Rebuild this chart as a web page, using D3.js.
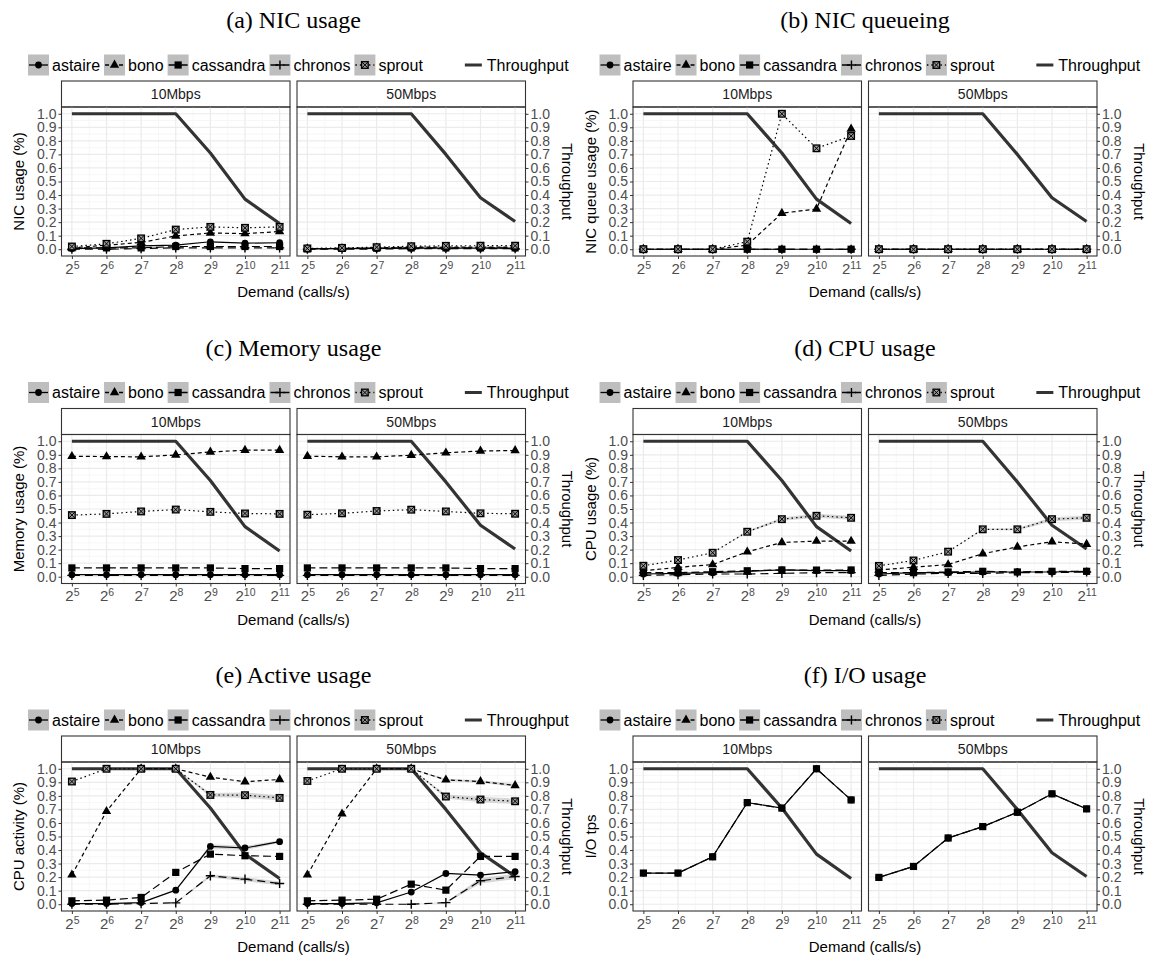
<!DOCTYPE html>
<html>
<head>
<meta charset="utf-8">
<script src="https://cdn.jsdelivr.net/npm/d3@7"></script>
<style>
  body { margin: 0; background: #fff; }
  text { font-family: "Liberation Sans", Arial, sans-serif; }
</style>
</head>
<body>
<svg id="fig" width="1153" height="956"></svg>
<script>
// x = log2(demand)
const exponents = [5, 6, 7, 8, 9, 10, 11];
const services = ["astaire", "bono", "cassandra", "chronos", "sprout"];
const facets = ["10Mbps", "50Mbps"];
const yTicks = [0, 0.1, 0.2, 0.3, 0.4, 0.5, 0.6, 0.7, 0.8, 0.9, 1.0];

const throughput10 = [1, 1, 1, 1, 0.71, 0.37, 0.19];
const throughput50 = [1, 1, 1, 1, 0.70, 0.38, 0.205];

// (a) NIC usage
const nic10 = {
  astaire:   [0.005, 0.01, 0.025, 0.03, 0.055, 0.045, 0.048],
  bono:      [0.01, 0.03, 0.05, 0.098, 0.12, 0.115, 0.13],
  cassandra: [0.01, 0.01, 0.01, 0.02, 0.02, 0.02, 0.02],
  chronos:   [0, 0, 0.005, 0.01, 0.01, 0.01, 0.01],
  sprout:    [0.02, 0.04, 0.08, 0.145, 0.165, 0.158, 0.165]
};
const nic50 = {
  astaire:   [0.002, 0.004, 0.006, 0.008, 0.008, 0.008, 0.008],
  bono:      [0.004, 0.006, 0.01, 0.015, 0.015, 0.016, 0.016],
  cassandra: [0.004, 0.006, 0.008, 0.01, 0.01, 0.01, 0.01],
  chronos:   [0, 0, 0.002, 0.004, 0.004, 0.004, 0.004],
  sprout:    [0.006, 0.01, 0.015, 0.022, 0.025, 0.026, 0.026]
};

// (b) NIC queueing
const queue10 = {
  astaire:   [0, 0, 0, 0, 0, 0, 0],
  bono:      [0, 0, 0, 0.03, 0.266, 0.297, 0.888],
  cassandra: [0, 0, 0, 0, 0, 0, 0],
  chronos:   [0, 0, 0, 0, 0, 0, 0],
  sprout:    [0, 0, 0, 0.056, 1.0, 0.745, 0.836]
};
const queue50 = {
  astaire:   [0, 0, 0, 0, 0, 0, 0],
  bono:      [0, 0, 0, 0, 0, 0, 0],
  cassandra: [0, 0, 0, 0, 0, 0, 0],
  chronos:   [0, 0, 0, 0, 0, 0, 0],
  sprout:    [0, 0, 0, 0, 0, 0, 0]
};

// (c) Memory usage
const mem10 = {
  astaire:   [0.015, 0.015, 0.015, 0.015, 0.015, 0.015, 0.015],
  bono:      [0.889, 0.887, 0.885, 0.899, 0.921, 0.934, 0.934],
  cassandra: [0.065, 0.065, 0.065, 0.065, 0.065, 0.06, 0.06],
  chronos:   [0.01, 0.01, 0.01, 0.01, 0.01, 0.01, 0.01],
  sprout:    [0.455, 0.464, 0.482, 0.496, 0.479, 0.467, 0.464]
};
const mem50 = {
  astaire:   [0.015, 0.015, 0.015, 0.015, 0.015, 0.015, 0.015],
  bono:      [0.89, 0.885, 0.885, 0.897, 0.915, 0.928, 0.932],
  cassandra: [0.065, 0.065, 0.065, 0.065, 0.065, 0.06, 0.06],
  chronos:   [0.01, 0.01, 0.01, 0.01, 0.01, 0.01, 0.01],
  sprout:    [0.458, 0.468, 0.485, 0.495, 0.482, 0.468, 0.465]
};

// (d) CPU usage
const cpu10 = {
  astaire:   [0.02, 0.025, 0.03, 0.04, 0.05, 0.045, 0.045],
  bono:      [0.044, 0.069, 0.09, 0.184, 0.253, 0.263, 0.263],
  cassandra: [0.03, 0.03, 0.037, 0.044, 0.05, 0.049, 0.05],
  chronos:   [0.01, 0.015, 0.02, 0.02, 0.025, 0.03, 0.03],
  sprout:    [0.081, 0.123, 0.177, 0.332, 0.425, 0.45, 0.435]
};
const cpu50 = {
  astaire:   [0.02, 0.03, 0.03, 0.035, 0.035, 0.035, 0.04],
  bono:      [0.05, 0.07, 0.09, 0.17, 0.22, 0.258, 0.24],
  cassandra: [0.03, 0.03, 0.035, 0.04, 0.035, 0.04, 0.04],
  chronos:   [0.01, 0.02, 0.025, 0.025, 0.03, 0.03, 0.035],
  sprout:    [0.08, 0.12, 0.185, 0.35, 0.35, 0.425, 0.435]
};

// (e) Active usage
const act10 = {
  astaire:   [0.005, 0.005, 0.012, 0.104, 0.427, 0.415, 0.462],
  bono:      [0.217, 0.686, 1.0, 1.0, 0.938, 0.904, 0.921],
  cassandra: [0.025, 0.03, 0.05, 0.235, 0.37, 0.358, 0.353],
  chronos:   [0, 0, 0.005, 0.01, 0.21, 0.185, 0.153],
  sprout:    [0.906, 1.0, 1.0, 1.0, 0.807, 0.805, 0.785]
};
const act50 = {
  astaire:   [0.005, 0.005, 0.01, 0.09, 0.227, 0.215, 0.24],
  bono:      [0.217, 0.667, 1.0, 1.0, 0.918, 0.906, 0.877],
  cassandra: [0.025, 0.03, 0.037, 0.148, 0.104, 0.353, 0.353],
  chronos:   [0, 0, 0, 0, 0.012, 0.173, 0.205],
  sprout:    [0.91, 1.0, 1.0, 1.0, 0.795, 0.773, 0.76]
};

// (f) I/O usage
const io10 = {
  astaire:   [0.23, 0.23, 0.35, 0.75, 0.71, 1.0, 0.77],
  cassandra: [0.23, 0.23, 0.35, 0.75, 0.71, 1.0, 0.77]
};
const io50 = {
  astaire:   [0.198, 0.279, 0.489, 0.573, 0.679, 0.815, 0.704],
  cassandra: [0.198, 0.279, 0.489, 0.573, 0.679, 0.815, 0.704]
};

// half widths of the grey smoothing bands
const cpuBand10 = { sprout: [0, 0, 0, 0.005, 0.012, 0.015, 0.015] };
const cpuBand50 = { sprout: [0, 0, 0, 0.005, 0.008, 0.015, 0.015] };
const actBand10 = { sprout: [0, 0, 0, 0, 0.015, 0.02, 0.02], astaire: [0, 0, 0, 0, 0.015, 0.015, 0.01], chronos: [0, 0, 0, 0, 0.012, 0.015, 0.015] };
const actBand50 = { sprout: [0, 0, 0, 0, 0.015, 0.02, 0.02], bono: [0, 0, 0, 0, 0.008, 0.01, 0.01], chronos: [0, 0, 0, 0, 0.005, 0.02, 0.02] };

const figures = [
  { title: "(a) NIC usage", ylab: "NIC usage (%)", data: [nic10, nic50], bands: [{}, {}] },
  { title: "(b) NIC queueing", ylab: "NIC queue usage (%)", data: [queue10, queue50], bands: [{}, {}] },
  { title: "(c) Memory usage", ylab: "Memory usage (%)", data: [mem10, mem50], bands: [{}, {}] },
  { title: "(d) CPU usage", ylab: "CPU usage (%)", data: [cpu10, cpu50], bands: [cpuBand10, cpuBand50] },
  { title: "(e) Active usage", ylab: "CPU activity (%)", data: [act10, act50], bands: [actBand10, actBand50] },
  { title: "(f) I/O usage", ylab: "I/O tps", data: [io10, io50], bands: [{}, {}] }
];
const throughputs = [throughput10, throughput50];

const dash = { astaire: null, bono: "4,3", cassandra: "8,4", chronos: "8,5", sprout: "1.5,3" };

const svg = d3.select("#fig");
const colX = [0, 571.5], rowY = [0, 327.5, 655];
const panelX = [[61.5, 290], [297, 525.5]];
const plotTop = 107, plotBottom = 256;

const x = d3.scaleLinear().domain([4.7, 11.3]);
const y = d3.scaleLinear().domain([-0.05, 1.05]).range([plotBottom, plotTop]);

function marker(sel, s, cx, cy) {
  if (s == "astaire") {
    sel.append("circle").attr("cx", cx).attr("cy", cy).attr("r", 3.4).attr("fill", "#000");
  } else if (s == "bono") {
    sel.append("path").attr("d", d3.symbol(d3.symbolTriangle, 38)())
      .attr("transform", `translate(${cx},${cy})`).attr("fill", "#000");
  } else if (s == "cassandra") {
    sel.append("rect").attr("x", cx - 3.6).attr("y", cy - 3.6).attr("width", 7.2).attr("height", 7.2).attr("fill", "#000");
  } else if (s == "chronos") {
    sel.append("path").attr("d", `M${cx-4.6},${cy}H${cx+4.6}M${cx},${cy-4.6}V${cy+4.6}`)
      .attr("stroke", "#000").attr("stroke-width", 1.4);
  } else {
    sel.append("rect").attr("x", cx - 3.3).attr("y", cy - 3.3).attr("width", 6.6).attr("height", 6.6)
      .attr("fill", "#999").attr("stroke", "#000").attr("stroke-width", 1.3);
    sel.append("path").attr("d", `M${cx-3.3},${cy-3.3}L${cx+3.3},${cy+3.3}M${cx+3.3},${cy-3.3}L${cx-3.3},${cy+3.3}`)
      .attr("stroke", "#000").attr("stroke-width", 1);
  }
}

function drawLegend(g, yc) {
  let cx = 28;
  services.forEach(s => {
    const k = g.append("g").attr("transform", `translate(${cx},${yc - 10.5})`);
    k.append("rect").attr("width", 21).attr("height", 21).attr("fill", "#bebebe");
    k.append("line").attr("x1", 1).attr("x2", 20).attr("y1", 10.5).attr("y2", 10.5)
      .attr("stroke", "#000").attr("stroke-width", 1.3).attr("stroke-dasharray", dash[s]);
    marker(k, s, 10.5, 10.5);
    const t = g.append("text").attr("x", cx + 24).attr("y", yc + 5.5)
      .style("font-size", "16px").attr("fill", "#000").text(s);
    cx += 24 + t.node().getComputedTextLength() + 4;
  });
  cx += 36;
  g.append("line").attr("x1", cx + 2).attr("x2", cx + 19).attr("y1", yc).attr("y2", yc)
    .attr("stroke", "#333").attr("stroke-width", 3);
  g.append("text").attr("x", cx + 24).attr("y", yc + 5.5)
    .style("font-size", "16px").text("Throughput");
}

figures.forEach((f, i) => {
  const col = i % 2, row = Math.floor(i / 2);
  const g = svg.append("g").attr("transform", `translate(${colX[col]},${rowY[row]})`);

  g.append("text").attr("x", 293.5).attr("y", 28).attr("text-anchor", "middle")
    .style("font-family", "'Liberation Serif', 'Times New Roman', serif")
    .style("font-size", "24px").text(f.title);

  drawLegend(g, 65);

  facets.forEach((fac, j) => {
    const [x0, x1] = panelX[j];
    const xs = x.copy().range([x0, x1]);
    const pg = g.append("g");

    // strip
    pg.append("rect").attr("x", x0).attr("y", 81).attr("width", x1 - x0).attr("height", 26)
      .attr("fill", "#fff").attr("stroke", "#333").attr("stroke-width", 1.1);
    pg.append("text").attr("x", (x0 + x1) / 2).attr("y", 99).attr("text-anchor", "middle")
      .style("font-size", "14px").attr("fill", "#1a1a1a").text(fac);

    // grid
    const minorY = d3.range(0.05, 1.0, 0.1);
    const minorX = [5.5, 6.5, 7.5, 8.5, 9.5, 10.5];
    pg.selectAll(".gmy").data(minorY).join("line")
      .attr("x1", x0).attr("x2", x1).attr("y1", d => y(d)).attr("y2", d => y(d))
      .attr("stroke", "#f2f2f2").attr("stroke-width", 0.6);
    pg.selectAll(".gmx").data(minorX).join("line")
      .attr("y1", plotTop).attr("y2", plotBottom).attr("x1", d => xs(d)).attr("x2", d => xs(d))
      .attr("stroke", "#f2f2f2").attr("stroke-width", 0.6);
    pg.selectAll(".gy").data(yTicks).join("line")
      .attr("x1", x0).attr("x2", x1).attr("y1", d => y(d)).attr("y2", d => y(d))
      .attr("stroke", "#ebebeb").attr("stroke-width", 1.2);
    pg.selectAll(".gx").data(exponents).join("line")
      .attr("y1", plotTop).attr("y2", plotBottom).attr("x1", d => xs(d)).attr("x2", d => xs(d))
      .attr("stroke", "#ebebeb").attr("stroke-width", 1.2);

    const data = f.data[j], bands = f.bands[j];

    // bands
    Object.keys(bands).forEach(s => {
      const area = d3.area().x((d, k) => xs(exponents[k]))
        .y0((d, k) => y(data[s][k] - d)).y1((d, k) => y(data[s][k] + d));
      pg.append("path").attr("d", area(bands[s])).attr("fill", "#bdbdbd").attr("opacity", 0.6);
    });

    // throughput
    const line = d3.line().x((d, k) => xs(exponents[k])).y(d => y(d));
    pg.append("path").attr("d", line(throughputs[j])).attr("fill", "none")
      .attr("stroke", "#333").attr("stroke-width", 3.2).attr("stroke-linejoin", "round");

    // services
    services.forEach(s => {
      if (!data[s]) return;
      pg.append("path").attr("d", line(data[s])).attr("fill", "none")
        .attr("stroke", "#000").attr("stroke-width", 1.2).attr("stroke-dasharray", dash[s]);
    });
    services.forEach(s => {
      if (!data[s]) return;
      data[s].forEach((v, k) => marker(pg, s, xs(exponents[k]), y(v)));
    });

    // border
    pg.append("rect").attr("x", x0).attr("y", plotTop).attr("width", x1 - x0).attr("height", plotBottom - plotTop)
      .attr("fill", "none").attr("stroke", "#333").attr("stroke-width", 1.1);

    // x axis
    const xa = pg.append("g").attr("transform", `translate(0,${plotBottom})`)
      .call(d3.axisBottom(xs).tickValues(exponents).tickSize(3).tickPadding(4).tickFormat(""));
    xa.select(".domain").remove();
    xa.selectAll(".tick line").attr("stroke", "#333");
    xa.selectAll(".tick text").attr("fill", "#4d4d4d").style("font-size", "15px")
      .attr("font-family", null)
      .each(function(d) {
        const t = d3.select(this);
        t.append("tspan").text("2");
        t.append("tspan").attr("dy", "-0.45em").style("font-size", "10.5px").text(d);
      });

    // y axes
    const yAxis = j == 0 ? d3.axisLeft(y) : d3.axisRight(y);
    const ya = pg.append("g").attr("transform", `translate(${j == 0 ? x0 : x1},0)`)
      .call(yAxis.tickValues(yTicks).tickSize(3).tickPadding(2).tickFormat(d3.format(".1f")));
    ya.select(".domain").remove();
    ya.selectAll(".tick line").attr("stroke", "#333");
    ya.selectAll(".tick text").attr("fill", "#4d4d4d").style("font-size", "14px").attr("font-family", null);
  });

  // axis titles
  g.append("text").attr("x", 293.5).attr("y", 297).attr("text-anchor", "middle")
    .style("font-size", "15px").text("Demand (calls/s)");
  g.append("text").attr("transform", `translate(24,${(plotTop + plotBottom) / 2}) rotate(-90)`)
    .attr("text-anchor", "middle").style("font-size", "15px").text(f.ylab);
  g.append("text").attr("transform", `translate(562,${(plotTop + plotBottom) / 2}) rotate(90)`)
    .attr("text-anchor", "middle").style("font-size", "15px").text("Throughput");
});
</script>
</body>
</html>
